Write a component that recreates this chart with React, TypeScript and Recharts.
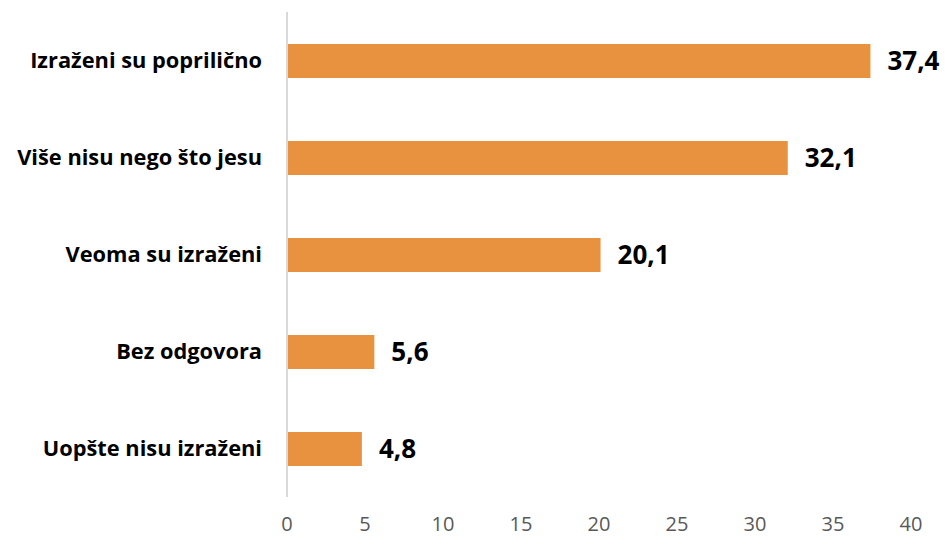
import { Bar, BarChart, LabelList, XAxis, YAxis } from "recharts";

const categories = [
  "Izraženi su poprilično",
  "Više nisu nego što jesu",
  "Veoma su izraženi",
  "Bez odgovora",
  "Uopšte nisu izraženi",
];
const values = [37.4, 32.1, 20.1, 5.6, 4.8];
const xTicks = [0, 5, 10, 15, 20, 25, 30, 35, 40];

const data = categories.map((name, i) => ({ name, value: values[i] }));

const font = "'Open Sans', 'Noto Sans', sans-serif";

export default function App() {
  return (
    <div style={{ position: "absolute", left: 0, top: 0, width: 945, height: 538, background: "#fff" }}>
      <BarChart
        width={945}
        height={538}
        data={data}
        layout="vertical"
        margin={{ top: 12, right: 34, left: 0, bottom: 0 }}
      >
        <XAxis
          type="number"
          domain={[0, 40]}
          ticks={xTicks}
          axisLine={false}
          tickLine={false}
          height={41}
          tickSize={0}
          tickMargin={20}
          tick={{ fontSize: 20, fill: "#595959", fontFamily: font }}
        />
        <YAxis
          type="category"
          dataKey="name"
          width={287}
          axisLine={{ stroke: "#d9d9d9", strokeWidth: 2 }}
          tickLine={false}
          tickSize={0}
          tickMargin={25}
          tick={{ fontSize: 21.8, fill: "#000", fontWeight: 700, fontFamily: font }}
        />
        <Bar dataKey="value" fill="#E8923F" barSize={34} isAnimationActive={false}>
          <LabelList
            dataKey="value"
            position="right"
            offset={17}
            formatter={(v: number) => v.toFixed(1).replace(".", ",")}
            style={{ fontSize: 26, fontWeight: 700, fill: "#000", fontFamily: font }}
          />
        </Bar>
      </BarChart>
    </div>
  );
}
